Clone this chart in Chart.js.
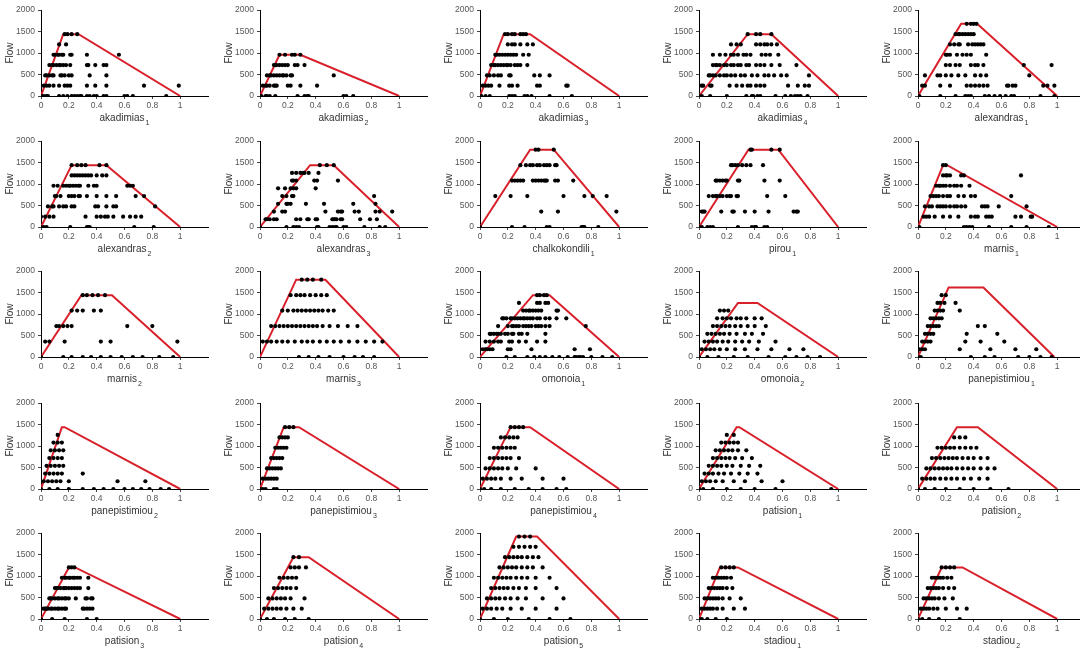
<!DOCTYPE html>
<html><head><meta charset="utf-8">
<script src="https://cdn.jsdelivr.net/npm/chart.js@4"></script>
<style>
body{margin:0;background:#fff;width:1080px;height:653px;overflow:hidden;position:relative}
canvas{position:absolute}
</style></head><body>
<script>
// ---------- data ----------
const stations = ['akadimias','akadimias','akadimias','akadimias','alexandras',
  'alexandras','alexandras','chalkokondili','pirou','marnis',
  'marnis','marnis','omonoia','omonoia','panepistimiou',
  'panepistimiou','panepistimiou','panepistimiou','patision','patision',
  'patision','patision','patision','stadiou','stadiou'];
const sensorIndex = [1,2,3,4,1, 2,3,1,1,1, 2,3,1,2,1, 2,3,4,1,2, 3,4,5,1,2];
const capacityFlow = [1440,960,1440,1440,1680, 1440,1440,1800,1800,1440, 1440,1800,1440,1260,1620, 1440,1440,1440,1440,1440, 1200,1440,1920,1200,1200];
const criticalOcc  = [0.16,0.14,0.17,0.35,0.31, 0.22,0.36,0.36,0.355,0.18, 0.29,0.26,0.38,0.28,0.22, 0.15,0.17,0.22,0.27,0.28, 0.20,0.24,0.26,0.15,0.17];
const jamStartOcc  = [0.27,0.29,0.36,0.52,0.425, 0.47,0.53,0.53,0.57,0.21, 0.51,0.47,0.50,0.42,0.47, 0.17,0.28,0.36,0.29,0.43, 0.245,0.35,0.41,0.28,0.32];
const jamOcc       = [1,1,1,1,1, 1,1,1,1,1, 1,1,1,1,0.98, 1,1,1,1,1, 1,1,1,1,1];

// observations: [flow, occupancy values...]
const obs1 = [[1440,0.17,0.19,0.22,0.26],[1200,0.13,0.18],
 [960,0.09,0.10,0.12,0.13,0.15,0.16,0.21,0.22,0.33,0.56],
 [720,0.06,0.08,0.09,0.11,0.13,0.14,0.16,0.18,0.21,0.33,0.34,0.39,0.45,0.47],
 [480,0.03,0.04,0.06,0.08,0.09,0.14,0.15,0.17,0.20,0.22,0.35,0.47],
 [240,0.02,0.04,0.06,0.09,0.13,0.17,0.19,0.21,0.33,0.39,0.47,0.74,0.99],
 [0,0.01,0.02,0.04,0.05,0.13,0.16,0.19,0.22,0.24,0.26,0.28,0.29,0.33,0.35,0.38,0.40,0.45,0.47,0.60,0.62,0.66,0.90]];
const obs2 = [[960,0.14,0.18,0.23,0.25,0.29],
 [720,0.10,0.11,0.12,0.14,0.16,0.18,0.20,0.25,0.27,0.32],
 [480,0.05,0.07,0.08,0.10,0.12,0.14,0.16,0.17,0.19,0.22,0.23,0.53],
 [240,0.02,0.04,0.05,0.07,0.10,0.11,0.12,0.20,0.22,0.29,0.41],
 [0,0.0,0.01,0.04,0.05,0.07,0.11,0.27,0.32,0.34,0.35,0.60,0.62,0.67]];
const obs3 = [[1440,0.18,0.20,0.23,0.25,0.29,0.31,0.33],
 [1200,0.20,0.23,0.25,0.29,0.34,0.38],
 [960,0.11,0.12,0.14,0.16,0.18,0.20,0.22,0.24,0.26,0.31,0.35],
 [720,0.08,0.10,0.11,0.13,0.15,0.17,0.19,0.20,0.22,0.25,0.27,0.29,0.34],
 [480,0.05,0.07,0.10,0.13,0.15,0.21,0.22,0.39,0.43,0.50],
 [240,0.02,0.04,0.06,0.08,0.14,0.21,0.23,0.27,0.41,0.43,0.62,0.63],
 [0,0.0,0.01,0.04,0.07,0.21,0.23,0.25,0.32,0.34,0.37,0.50,0.66]];
const obs4 = [[1440,0.35,0.41,0.44,0.52],
 [1200,0.23,0.27,0.30,0.41,0.44,0.47,0.49,0.52,0.56],
 [960,0.10,0.15,0.19,0.23,0.25,0.28,0.32,0.34,0.37,0.45,0.48,0.51,0.57],
 [720,0.10,0.12,0.13,0.15,0.18,0.20,0.23,0.25,0.28,0.30,0.34,0.36,0.41,0.44,0.47,0.52,0.58,0.70],
 [480,0.07,0.08,0.10,0.12,0.15,0.18,0.20,0.23,0.26,0.30,0.33,0.38,0.42,0.47,0.50,0.54,0.59,0.63,0.79],
 [240,0.0,0.02,0.03,0.08,0.09,0.22,0.27,0.31,0.35,0.37,0.41,0.44,0.47,0.64,0.71,0.76,0.79],
 [0,0.0,0.02,0.08,0.20,0.34,0.38,0.39,0.42,0.44,0.55,0.62,0.66,0.69,0.71,0.73,0.78]];
const obs5 = [[1680,0.35,0.38,0.40,0.42],
 [1440,0.27,0.29,0.30,0.32,0.34,0.36,0.38,0.40],
 [1200,0.23,0.26,0.29,0.30,0.36,0.39,0.41,0.43,0.45,0.47],
 [960,0.20,0.21,0.23,0.28,0.32,0.35,0.38,0.49],
 [720,0.20,0.23,0.27,0.30,0.38,0.41,0.43,0.47,0.76,0.96],
 [480,0.05,0.14,0.16,0.20,0.24,0.29,0.34,0.41,0.45,0.49,0.80],
 [240,0.03,0.05,0.16,0.23,0.35,0.38,0.41,0.44,0.47,0.50,0.64,0.65,0.68,0.70,0.90,0.93,0.98],
 [0,0.01,0.16,0.27,0.34,0.36,0.38,0.48,0.51,0.55,0.59,0.63,0.67,0.69,0.88,0.98]];
const obs6 = [[1440,0.22,0.26,0.29,0.32,0.42,0.47],
 [1200,0.22,0.24,0.26,0.28,0.30,0.32,0.34,0.36,0.40,0.44,0.47],
 [960,0.09,0.12,0.16,0.18,0.20,0.21,0.23,0.25,0.27,0.28,0.34,0.38,0.40,0.62,0.64,0.66],
 [720,0.10,0.11,0.14,0.20,0.22,0.24,0.27,0.28,0.33,0.40,0.47,0.54,0.68,0.74],
 [480,0.05,0.08,0.09,0.13,0.16,0.18,0.22,0.24,0.39,0.41,0.47,0.52,0.54,0.82],
 [240,0.0,0.03,0.06,0.09,0.32,0.40,0.43,0.46,0.48,0.52,0.59,0.64,0.68,0.72],
 [0,0.0,0.02,0.04,0.21,0.33,0.34,0.35,0.67,0.81]];
const obs7 = [[1440,0.43,0.48,0.53],
 [1260,0.23,0.26,0.29,0.31,0.32,0.35,0.42],
 [1080,0.23,0.24,0.26,0.39,0.41,0.56],
 [900,0.13,0.18,0.22,0.24,0.26,0.40],
 [720,0.16,0.19,0.23,0.24,0.82],
 [540,0.13,0.19,0.20,0.22,0.33,0.46,0.67,0.83],
 [360,0.10,0.16,0.18,0.47,0.56,0.58,0.59,0.68,0.71,0.83,0.86,0.95],
 [180,0.04,0.05,0.07,0.10,0.12,0.26,0.29,0.34,0.35,0.40,0.41,0.52,0.53,0.54,0.55,0.58,0.59,0.72,0.79,0.84],
 [0,0.0,0.19,0.24,0.26,0.28,0.41,0.42,0.50,0.52,0.54,0.55,0.60,0.62,0.75,0.86,0.90]];
const obs8 = [[1800,0.40,0.42,0.53],
 [1440,0.29,0.33,0.36,0.38,0.41,0.43,0.46,0.48,0.50,0.54,0.55],
 [1080,0.23,0.25,0.27,0.29,0.31,0.38,0.40,0.42,0.44,0.46,0.47,0.48,0.54,0.56,0.67],
 [720,0.11,0.22,0.34,0.60,0.75,0.81,0.91],
 [360,0.44,0.56,0.98],
 [0,0.0,0.23,0.32,0.48,0.50,0.73,0.74,0.75,0.85]];
const obs9 = [[1800,0.37,0.38,0.52,0.58],
 [1440,0.23,0.24,0.26,0.28,0.31,0.34,0.37,0.46],
 [1080,0.12,0.13,0.15,0.17,0.19,0.20,0.28,0.29,0.47,0.58],
 [720,0.07,0.10,0.12,0.13,0.15,0.17,0.20,0.22,0.23,0.27,0.28,0.49,0.62],
 [360,0.02,0.03,0.04,0.16,0.24,0.25,0.33,0.40,0.50,0.68,0.70,0.71],
 [0,0.0,0.02,0.06,0.08,0.10,0.28,0.38,0.40,0.41,0.47,0.49]];
const obs10 = [[1440,0.18,0.20],
 [1200,0.18,0.20,0.21,0.23,0.31,0.33,0.74],
 [960,0.13,0.15,0.16,0.18,0.20,0.23,0.26,0.28,0.31,0.37],
 [720,0.09,0.11,0.13,0.15,0.18,0.21,0.23,0.29,0.33,0.38,0.41,0.67],
 [480,0.05,0.08,0.10,0.14,0.16,0.18,0.20,0.23,0.26,0.28,0.31,0.34,0.46,0.48,0.50,0.58,0.78],
 [240,0.04,0.06,0.08,0.12,0.18,0.23,0.29,0.38,0.41,0.43,0.49,0.51,0.53,0.70,0.74,0.81,0.82],
 [0,0.01,0.33,0.35,0.37,0.39,0.51,0.67,0.78,0.94]];
const obs11 = [[1440,0.30,0.33,0.37,0.41,0.46],
 [1080,0.22,0.26,0.30,0.38,0.43],
 [720,0.11,0.13,0.16,0.19,0.22,0.62,0.80],
 [360,0.03,0.06,0.17,0.43,0.50,0.98],
 [0,0.0,0.16,0.22,0.30,0.36,0.43,0.50,0.58,0.66,0.73,0.85,0.95]];
const obs12 = [[1800,0.30,0.34,0.38,0.44],
 [1440,0.22,0.26,0.29,0.32,0.36,0.40,0.44,0.48],
 [1080,0.16,0.20,0.24,0.27,0.30,0.33,0.36,0.39,0.42,0.45,0.49,0.53],
 [720,0.08,0.11,0.14,0.17,0.20,0.23,0.26,0.29,0.32,0.35,0.38,0.41,0.45,0.50,0.56,0.63,0.70],
 [360,0.02,0.05,0.08,0.12,0.16,0.20,0.25,0.30,0.34,0.38,0.43,0.48,0.53,0.58,0.64,0.70,0.76,0.82,0.88],
 [0,0.28,0.35,0.42,0.50,0.60,0.68,0.74,0.82]];
const obs13 = [[1440,0.41,0.43,0.46,0.48],
 [1260,0.28,0.41,0.43,0.47,0.49],
 [1080,0.31,0.33,0.35,0.36,0.38,0.40,0.42,0.44,0.55,0.56],
 [900,0.16,0.17,0.19,0.22,0.23,0.25,0.27,0.29,0.31,0.32,0.34,0.36,0.38,0.41,0.43,0.47,0.50,0.55,0.62],
 [720,0.13,0.20,0.23,0.24,0.26,0.28,0.31,0.33,0.35,0.37,0.40,0.42,0.44,0.47,0.50,0.76],
 [540,0.07,0.08,0.10,0.12,0.13,0.15,0.18,0.20,0.23,0.24,0.28,0.30,0.34,0.47],
 [360,0.04,0.07,0.10,0.13,0.15,0.21,0.23,0.28,0.33,0.41,0.47],
 [180,0.02,0.04,0.05,0.07,0.09,0.20,0.22,0.37,0.68,0.79],
 [0,0.19,0.25,0.34,0.39,0.43,0.47,0.52,0.57,0.63,0.68,0.69,0.71,0.72,0.74,0.80,0.88,0.95]];
const obs14 = [[1080,0.15,0.18,0.21],
 [900,0.13,0.17,0.20,0.23,0.27,0.30,0.34,0.40,0.45],
 [720,0.10,0.13,0.16,0.19,0.22,0.26,0.30,0.35,0.40,0.48],
 [540,0.06,0.09,0.12,0.15,0.18,0.22,0.27,0.33,0.38,0.46],
 [360,0.04,0.07,0.10,0.13,0.17,0.21,0.26,0.31,0.36,0.43,0.55],
 [180,0.02,0.05,0.08,0.11,0.15,0.20,0.26,0.33,0.42,0.52,0.65,0.75],
 [0,0.0,0.06,0.14,0.25,0.35,0.50,0.62,0.70,0.78,0.87]];
const obs15 = [[1440,0.17,0.20],[1260,0.14,0.16,0.19,0.27],
 [1080,0.12,0.14,0.16,0.18,0.30],[900,0.09,0.11,0.13,0.15,0.17],
 [720,0.07,0.09,0.11,0.13,0.15,0.43,0.48],[540,0.05,0.07,0.09,0.11,0.35,0.57],
 [360,0.03,0.05,0.07,0.09,0.34,0.45,0.62],[180,0.01,0.03,0.05,0.30,0.52,0.70,0.85],
 [0,0.0,0.02,0.38,0.48,0.55,0.72,0.80,0.88,0.96]];
const obs16 = [[1260,0.12],[1080,0.09,0.12,0.15],[900,0.07,0.10,0.13,0.16],[720,0.06,0.09,0.12,0.15],
 [540,0.04,0.07,0.10,0.13,0.16],[360,0.03,0.06,0.09,0.12,0.15,0.30],
 [180,0.02,0.05,0.08,0.11,0.14,0.20,0.55,0.75],
 [0,0.0,0.06,0.12,0.20,0.30,0.38,0.45,0.52,0.60,0.66,0.72,0.78,0.86,0.92]];
const obs17 = [[1440,0.18,0.21,0.24],[1200,0.14,0.16,0.18,0.20],[960,0.11,0.13,0.15,0.17,0.19],
 [720,0.08,0.10,0.12,0.14,0.16],[480,0.05,0.07,0.09,0.11,0.13,0.15],[240,0.02,0.04,0.06,0.08,0.10,0.12],
 [0,0.0,0.02,0.04,0.10,0.12]];
const obs18 = [[1440,0.22,0.25,0.28,0.31],[1200,0.15,0.18,0.21,0.24,0.27],[960,0.10,0.13,0.16,0.19,0.22,0.25],
 [720,0.07,0.10,0.13,0.16,0.19,0.22,0.28],[480,0.04,0.07,0.10,0.13,0.16,0.20,0.26,0.40],
 [240,0.02,0.05,0.08,0.11,0.15,0.22,0.30,0.45,0.60],[0,0.0,0.03,0.08,0.15,0.25,0.35,0.45,0.55,0.62]];
const obs19 = [[1260,0.20,0.25],[1080,0.16,0.19,0.22,0.25,0.28],[900,0.12,0.15,0.18,0.21,0.24,0.28,0.34],
 [720,0.10,0.13,0.16,0.19,0.22,0.26,0.31,0.38],[540,0.07,0.10,0.13,0.16,0.20,0.24,0.30,0.36,0.44],
 [360,0.04,0.07,0.10,0.14,0.18,0.23,0.29,0.35,0.42],[180,0.02,0.05,0.08,0.12,0.17,0.25,0.33,0.45,0.60],
 [0,0.0,0.03,0.10,0.20,0.30,0.40,0.55,0.95]];
const obs20 = [[1200,0.26,0.30,0.34],[960,0.14,0.17,0.20,0.23,0.26,0.30,0.34,0.38,0.42],
 [720,0.10,0.13,0.16,0.19,0.22,0.25,0.28,0.32,0.36,0.40,0.45,0.50],
 [480,0.06,0.09,0.12,0.15,0.18,0.21,0.24,0.28,0.32,0.36,0.40,0.45,0.50,0.55],
 [240,0.03,0.06,0.09,0.12,0.16,0.20,0.24,0.28,0.33,0.38,0.44,0.50],
 [0,0.0,0.05,0.12,0.20,0.30,0.40,0.52,0.65]];
const obs21 = [[1200,0.20,0.22,0.24],
 [960,0.15,0.17,0.18,0.20,0.21,0.23,0.24,0.26,0.28,0.34],
 [720,0.10,0.11,0.12,0.14,0.16,0.17,0.18,0.20,0.22,0.24,0.26,0.28,0.34],
 [480,0.06,0.07,0.08,0.10,0.12,0.13,0.15,0.17,0.18,0.20,0.25,0.32,0.33,0.36,0.37],
 [240,0.0,0.02,0.03,0.04,0.05,0.07,0.08,0.10,0.12,0.13,0.15,0.17,0.18,0.30,0.31,0.33,0.35,0.37],
 [0,0.0,0.08,0.17,0.33,0.40]];
const obs22 = [[1440,0.24,0.28],[1200,0.22,0.25,0.28,0.33],[960,0.14,0.17,0.20,0.23,0.26],
 [720,0.10,0.13,0.16,0.19,0.22,0.26],[480,0.06,0.09,0.12,0.15,0.18,0.22,0.32],
 [240,0.03,0.06,0.09,0.12,0.15,0.19,0.24,0.30],[0,0.0,0.05,0.10,0.18,0.25,0.35]];
const obs23 = [[1920,0.28,0.32,0.36],[1680,0.24,0.28,0.32,0.36,0.40],
 [1440,0.18,0.21,0.24,0.27,0.30,0.34,0.38,0.42],[1200,0.14,0.17,0.20,0.23,0.26,0.30,0.34,0.38,0.45],
 [960,0.10,0.13,0.16,0.19,0.22,0.26,0.30,0.34,0.40,0.50],[720,0.08,0.11,0.14,0.17,0.20,0.24,0.28,0.33,0.40,0.55],
 [480,0.05,0.08,0.11,0.14,0.18,0.22,0.27,0.33,0.45,0.60],[240,0.02,0.05,0.08,0.12,0.16,0.22,0.30,0.40,0.55],
 [0,0.0,0.10,0.20,0.35,0.50,0.65]];
const obs24 = [[1200,0.16,0.19,0.22,0.25],[960,0.10,0.12,0.14,0.16,0.18,0.20,0.23],
 [720,0.07,0.09,0.11,0.13,0.15,0.17,0.20,0.24],[480,0.04,0.06,0.08,0.10,0.12,0.14,0.17,0.22,0.30],
 [240,0.02,0.04,0.06,0.08,0.10,0.13,0.17,0.25,0.33],[0,0.0,0.02,0.06,0.12,0.20]];
const obs25 = [[1200,0.17,0.20,0.23,0.26],[960,0.10,0.12,0.14,0.16,0.18,0.21,0.24],
 [720,0.07,0.09,0.11,0.13,0.15,0.18,0.22,0.26],[480,0.04,0.06,0.08,0.10,0.12,0.15,0.19,0.25],
 [240,0.02,0.04,0.06,0.08,0.11,0.14,0.20,0.28,0.35],[0,0.0,0.03,0.08,0.15,0.30]];
const observations = [obs1,obs2,obs3,obs4,obs5,obs6,obs7,obs8,obs9,obs10,obs11,obs12,obs13,
  obs14,obs15,obs16,obs17,obs18,obs19,obs20,obs21,obs22,obs23,obs24,obs25];

const xTickValues = [0,0.2,0.4,0.6,0.8,1];
const yTickValues = [0,500,1000,1500,2000];

// ---------- layout ----------
const FONT = "'Liberation Sans', Arial, sans-serif";
const colAxisX = [41, 260, 480, 699, 918];
const rowZeroY = [96, 227, 357, 489, 619];
const AXW = 41, PLOTW = 167, PLOTH = 86, PADT = 8, XAXH = 34, PADR = 4;

const xTitlePlugin = {
  id: 'xTitleSub',
  afterDraw(chart, args, opts) {
    const {ctx, chartArea} = chart;
    const base = opts.base, sub = opts.sub;
    ctx.save();
    ctx.fillStyle = '#333';
    ctx.textBaseline = 'alphabetic';
    ctx.font = '10px ' + FONT;
    const wb = ctx.measureText(base).width;
    ctx.font = '7px ' + FONT;
    const ws = ctx.measureText(sub).width;
    const cx = (chartArea.left + chartArea.right) / 2;
    const x0 = cx - (wb + ws + 1) / 2;
    const yb = chartArea.bottom + 25;
    ctx.font = '10px ' + FONT;
    ctx.fillText(base, x0, yb);
    ctx.font = '7px ' + FONT;
    ctx.fillText(sub, x0 + wb + 1, yb + 4);
    ctx.restore();
  }
};

for (let i = 0; i < 25; i++) {
  const c = i % 5, r = Math.floor(i / 5);
  const cv = document.createElement('canvas');
  const W = AXW + PLOTW + PADR, H = PADT + PLOTH + XAXH;
  cv.width = W; cv.height = H;
  cv.style.left = (colAxisX[c] - AXW) + 'px';
  cv.style.top = (rowZeroY[r] - PLOTH - PADT) + 'px';
  document.body.appendChild(cv);

  const pts = [];
  observations[i].forEach(row => { for (let k = 1; k < row.length; k++) pts.push({x: row[k], y: row[0]}); });
  const fd = [{x:0,y:0},{x:criticalOcc[i],y:capacityFlow[i]},{x:jamStartOcc[i],y:capacityFlow[i]},{x:jamOcc[i],y:0}];

  new Chart(cv, {
    type: 'scatter',
    data: { datasets: [
      { data: pts, pointRadius: 2.1, pointBackgroundColor: '#000', pointBorderWidth: 0, showLine: false, order: 0 },
      { data: fd, showLine: true, borderColor: '#d9202a', borderWidth: 2, pointRadius: 0, fill: false, order: 1 }
    ]},
    options: {
      responsive: false, animation: false, devicePixelRatio: 1,
      layout: { padding: { left: 0, right: PADR, top: PADT, bottom: 0 } },
      plugins: { legend: { display: false }, tooltip: { enabled: false },
        xTitleSub: { base: stations[i], sub: String(sensorIndex[i]) } },
      scales: {
        x: { type: 'linear', min: 0, max: 1.2,
          afterFit: s => { s.height = XAXH; },
          afterBuildTicks: s => { s.ticks = xTickValues.concat([1.2]).map(v => ({value: v})); },
          ticks: { font: { family: FONT, size: 8.5 }, color: '#555', padding: 2, maxRotation: 0, autoSkip: false,
            callback: v => v > 1.1 ? '' : String(+v.toFixed(1)) },
          grid: { drawOnChartArea: false, tickLength: 3, tickColor: ctx => (ctx.tick && ctx.tick.value > 1.1) ? 'rgba(0,0,0,0)' : '#444' },
          border: { color: '#000', width: 1 } },
        y: { min: 0, max: 2000,
          afterFit: s => { s.width = AXW; },
          afterBuildTicks: s => { s.ticks = yTickValues.map(v => ({value: v})); },
          ticks: { font: { family: FONT, size: 8.5 }, color: '#555', padding: 3, callback: v => String(v) },
          grid: { drawOnChartArea: false, tickLength: 3, tickColor: '#444' },
          border: { color: '#000', width: 1 },
          title: { display: true, text: 'Flow', font: { family: FONT, size: 10 }, color: '#333', padding: { top: 4, bottom: 0 } } }
      }
    },
    plugins: [xTitlePlugin]
  });
}
</script>
</body></html>
